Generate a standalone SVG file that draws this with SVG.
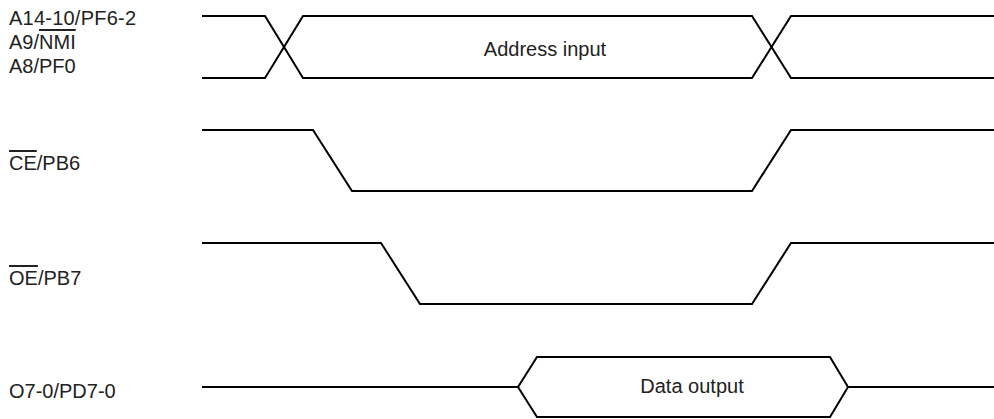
<svg xmlns="http://www.w3.org/2000/svg" width="994" height="419" viewBox="0 0 994 419">
<style>
.w{fill:none;stroke:#000;stroke-width:2;stroke-linejoin:miter}
.t{font-family:"Liberation Sans",Arial,sans-serif;font-size:20px;fill:#222}
.ol{text-decoration:overline}
</style>
<rect width="994" height="419" fill="#fff"/>
<g id="sig-address">
<text class="t" x="9" y="25" textLength="127" lengthAdjust="spacing">A14-10/PF6-2</text>
<text class="t" x="9" y="49">A9/<tspan class="ol">NMI</tspan></text>
<text class="t" x="9" y="73">A8/PF0</text>
<path class="w" d="M202,16 H265 L303,78 H752 L791,16 H994"/>
<path class="w" d="M202,78 H265 L303,16 H752 L791,78 H994"/>
<text class="t" x="545" y="56" text-anchor="middle">Address input</text>
</g>
<g id="sig-ce">
<text class="t" x="9" y="170"><tspan class="ol">CE</tspan>/PB6</text>
<path class="w" d="M202,130 H313 L352,191 H752 L791,130 H994"/>
</g>
<g id="sig-oe">
<text class="t" x="9" y="285"><tspan class="ol">OE</tspan>/PB7</text>
<path class="w" d="M202,243 H381 L420,304 H752 L791,243 H994"/>
</g>
<g id="sig-data">
<text class="t" x="9" y="398">O7-0/PD7-0</text>
<path class="w" d="M202,387 H518 L537,357 H830 L848,387 H994"/>
<path class="w" d="M518,387 L537,417 H830 L848,387"/>
<text class="t" x="692" y="393" text-anchor="middle">Data output</text>
</g>
</svg>
